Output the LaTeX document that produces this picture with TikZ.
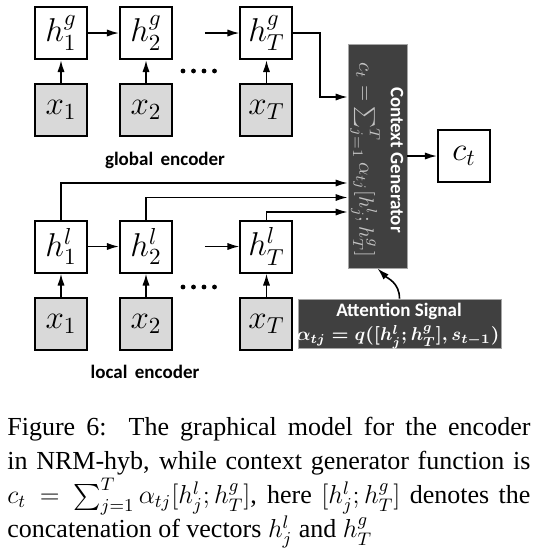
\RequirePackage{fix-cm}
\documentclass[tikz,border=0pt]{standalone}
\usepackage{amsmath, amssymb}
\usepackage[no-math]{fontspec}
\setmainfont{Liberation Serif}
\newfontfamily\labelfont{Carlito}
\usetikzlibrary{arrows.meta}

\definecolor{inputgray}{HTML}{D9D9D9}
\definecolor{panelgray}{HTML}{404040}
\definecolor{formulagray}{HTML}{C4C4C4}

\tikzset{
  hbox/.style={draw, line width=1pt, minimum width=26pt, minimum height=26pt,
    inner sep=0pt, font=\fontsize{16.5}{20}\selectfont},
  xbox/.style={hbox, fill=inputgray},
  conn/.style={line width=0.8pt, -{Latex[length=6pt,width=3.6pt]}},
  panel/.style={fill=panelgray, draw=gray!70, line width=0.4pt, inner sep=0pt},
  tag/.style={font=\labelfont\bfseries\fontsize{9.5}{11}\selectfont},
}

\begin{document}
\begin{tikzpicture}[x=0.5pt, y=-0.5pt]
    \useasboundingbox (0,0) rectangle (543,548);

    % global encoder
    \node[hbox] (hg1) at (61,33) {$h^g_1$};
    \node[hbox] (hg2) at (146,33) {$h^g_2$};
    \node[hbox] (hgT) at (266.5,33) {$h^g_T$};
    \node[xbox] (xg1) at (61,110) {$x_1$};
    \node[xbox] (xg2) at (146,110) {$x_2$};
    \node[xbox] (xgT) at (266.5,110) {$x_T$};
    \coordinate (gin) at (205,33);
    \foreach \d in {183,193.5,204,214.5}
        \fill (\d,71) circle (1.2pt);
    \draw[conn] (hg1) -- (hg2);
    \draw[conn] (gin) -- (hgT);
    \foreach \i in {1,2,T}
        \draw[conn] (xg\i) -- (hg\i);
    \node[tag] (gname) at (165,160) {global\, encoder};

    % local encoder
    \node[hbox] (hl1) at (61,246.5) {$h^l_1$};
    \node[hbox] (hl2) at (146,246.5) {$h^l_2$};
    \node[hbox] (hlT) at (266.5,246.5) {$h^l_T$};
    \node[xbox] (xl1) at (61,324) {$x_1$};
    \node[xbox] (xl2) at (146,324) {$x_2$};
    \node[xbox] (xlT) at (266.5,324) {$x_T$};
    \coordinate (lin) at (205,246.5);
    \foreach \d in {183,193.5,204,214.5}
        \fill (\d,287) circle (1.2pt);
    \draw[conn] (hl1) -- (hl2);
    \draw[conn] (lin) -- (hlT);
    \foreach \i in {1,2,T}
        \draw[conn] (xl\i) -- (hl\i);
    \node[tag] (lname) at (145,372) {local\, encoder};

    % context generator
    \node[panel, minimum width=29.5pt, minimum height=112pt] (cg) at (377.5,156) {};
    \node[tag, text=white, rotate=-90] (cglabel) at (397,160) {Context Generator};
    \node[text=formulagray, rotate=-90, font=\fontsize{10.4}{12}\selectfont] (cgformula) at (365,160)
        {$c_t = \sum_{j=1}^T \alpha_{tj}[h^l_j;h^g_T]$};
    \node[hbox] (ct) at (464,156) {$c_t$};
    \draw[conn] (cg) -- (ct);

    % inputs of the context generator
    \coordinate (gbend) at (320,97);
    \coordinate (l1) at (0,183);
    \coordinate (l2) at (0,197.5);
    \coordinate (lT) at (0,212);
    \draw[conn] (hgT.east) -| (gbend) -- (cg.west |- gbend);
    \draw[conn] (hl1.north) |- (cg.west |- l1);
    \draw[conn] (hl2.north) |- (cg.west |- l2);
    \draw[conn] (hlT.north) |- (cg.west |- lT);

    % attention signal
    \node[panel, minimum width=101.5pt, minimum height=24.5pt] (att) at (399.5,323.5) {};
    \node[tag, text=white] (attlabel) at (399,311) {Attention Signal};
    \node[text=white, font=\boldmath\fontsize{9.3}{11}\selectfont] (attformula) at (398,337)
        {$\alpha_{tj} = q([h^l_j;h^g_T], s_{t-1})$};
    \draw[conn] (att.north) .. controls +(0,-16) and +(10,10) .. (cg.south);

    % caption
    \node[anchor=north west, text width=261.5pt, inner sep=0pt, align=justify,
          font=\fontsize{13}{17}\selectfont] (caption) at (7,417)
        {Figure 6:\ \ The graphical model for the encoder\linebreak
         in NRM-hyb, while context generator function is\linebreak
         $c_t = \sum_{j=1}^T \alpha_{tj}[h^l_j;h^g_T]$, here $[h^l_j;h^g_T]$ denotes the\linebreak
         concatenation of vectors $h^l_j$ and $h^g_T$};
\end{tikzpicture}
\end{document}
